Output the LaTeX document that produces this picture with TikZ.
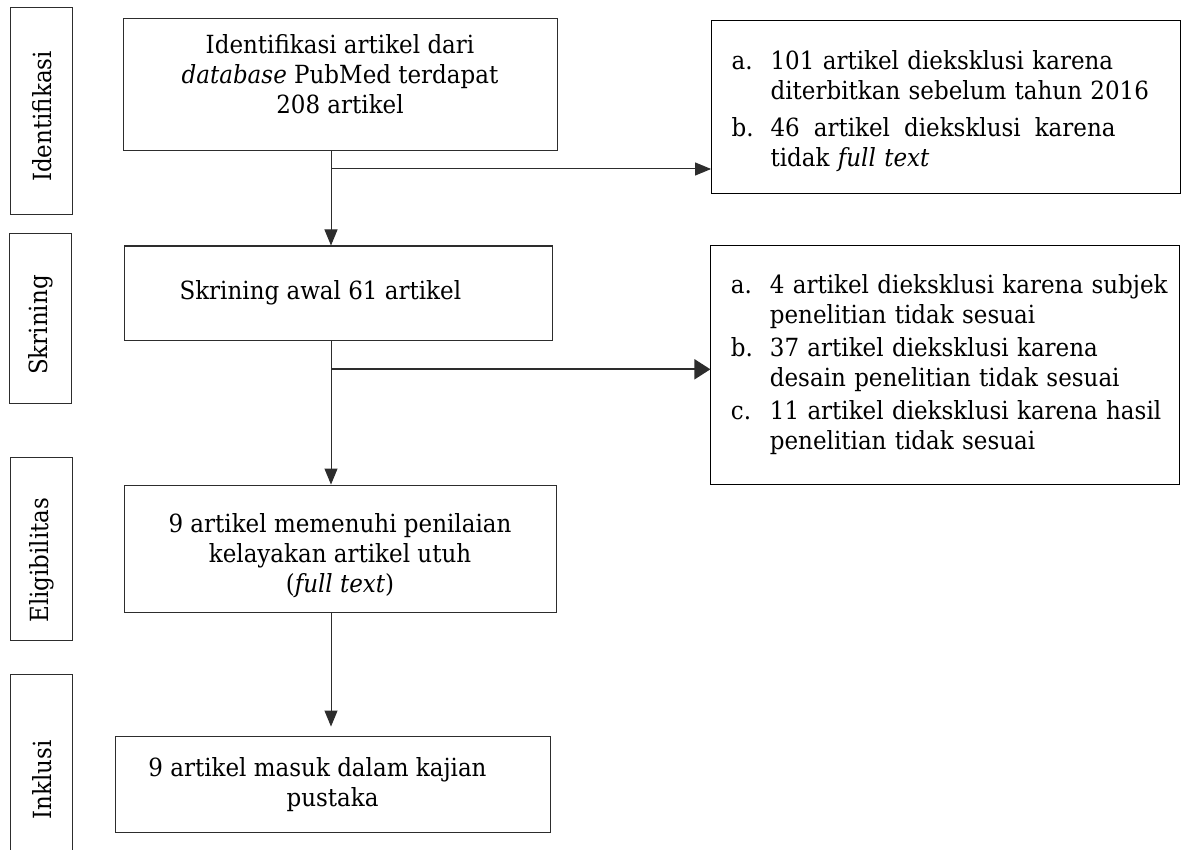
\documentclass[tikz,border=0pt]{standalone}
\usepackage{fontspec}
\setmainfont{DejaVu Serif}[FakeStretch=0.92]
\usepackage{tikz}
\usetikzlibrary{arrows.meta}
\definecolor{garisGelap}{RGB}{45,45,45}

\newcommand{\butir}[1]{\makebox[39pt][l]{#1}}

\begin{document}
\begin{tikzpicture}[x=1pt,y=-1pt,font=\fontsize{25}{30}\selectfont,
  kotak/.style={rectangle,draw=garisGelap,line width=1pt,align=center,inner sep=0pt},
  tahap/.style={rectangle,draw=garisGelap,line width=1pt,rotate=90,minimum height=62pt,inner sep=0pt},
  daftar/.style={rectangle,draw=black,line width=1pt,text width=429pt,inner xsep=20pt,
                 inner ysep=0pt,align=left},
  panah/.style={-{Triangle[length=16pt,width=13pt]},garisGelap,line width=1pt}]

  \useasboundingbox (0,0) rectangle (1182,850);
  \clip (0,0) rectangle (1182,850);

  \node[tahap,minimum width=207pt] (T1) at (41.7,111.5) {Identifikasi\hspace*{10pt}};
  \node[tahap,minimum width=169pt] (T2) at (40.3,318.5) {Skrining\hspace*{13pt}};
  \node[tahap,minimum width=183pt] (T3) at (41.7,549.2) {Eligibilitas\hspace*{22pt}};
  \node[tahap,minimum width=212pt] (T4) at (41.7,780) {Inklusi};

  \node[kotak,minimum width=434pt,minimum height=132.4pt] (K1) at (340,84.5) {
    Identifikasi artikel dari\\
    \textit{database} PubMed terdapat\\
    208 artikel\rule[-20pt]{0pt}{0pt}
  };
  \node[kotak,minimum width=428pt,minimum height=94pt] (K2) at (338,293) {
    Skrining awal 61 artikel\hspace*{28pt}
  };
  \node[kotak,minimum width=432pt,minimum height=127.7pt] (K3) at (340,548.9) {
    \rule{0pt}{33pt}9 artikel memenuhi penilaian\\
    kelayakan artikel utuh\\
    (\textit{full text})
  };
  \node[kotak,minimum width=435pt,minimum height=96.3pt] (K4) at (332.5,784.2) {
    9 artikel masuk dalam kajian\hspace*{30pt}\\
    pustaka
  };

  \node[daftar,minimum height=173.3pt] (D1) at (946.1,106.7) {
    \rule{0pt}{28pt}\butir{a.}101 artikel dieksklusi karena\\
    \hspace*{39pt}diterbitkan sebelum tahun 2016\\[6.7pt]
    \butir{b.}46\hspace{14pt}artikel\hspace{14pt}dieksklusi\hspace{14pt}karena\\
    \hspace*{39pt}tidak \textit{full text}
  };
  \node[daftar,minimum height=239.3pt] (D2) at (945.4,364.7) {
    \butir{a.}\mbox{4 artikel dieksklusi karena subjek}\\
    \hspace*{39pt}penelitian tidak sesuai\\[3.3pt]
    \butir{b.}37 artikel dieksklusi karena\\
    \hspace*{39pt}desain penelitian tidak sesuai\\[3.3pt]
    \butir{c.}\mbox{11 artikel dieksklusi karena hasil}\\
    \hspace*{39pt}penelitian tidak sesuai
  };

  \coordinate (poros) at (331,0);
  \coordinate (cabang1) at (331,169);
  \coordinate (cabang2) at (331,369.3);

  \draw[panah] (K1.south -| poros) -- (K2.north -| poros);
  \draw[panah] (cabang1) -- (cabang1 -| D1.west);
  \draw[panah,line width=2pt,-{Triangle[length=16pt,width=20pt]}] (cabang2) -- (cabang2 -| D2.west);
  \draw[panah] (K2.south -| poros) -- (K3.north -| poros);
  \draw[panah,shorten >=9pt] (K3.south -| poros) -- (K4.north -| poros);
\end{tikzpicture}
\end{document}
